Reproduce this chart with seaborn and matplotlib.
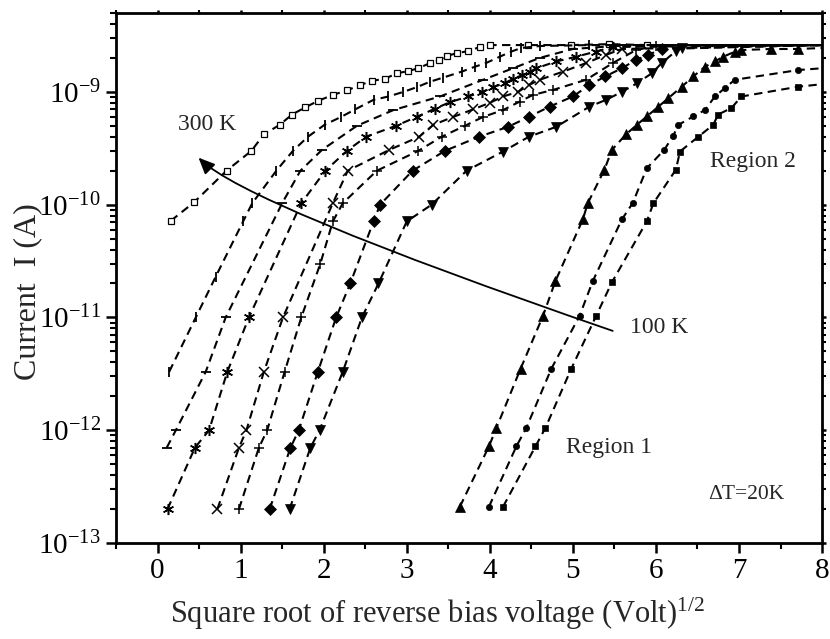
import numpy as np
import pandas as pd
import matplotlib
matplotlib.use("Agg")
import matplotlib.pyplot as plt
import seaborn as sns

sns.set_theme(style="white")
plt.rcParams['font.family'] = ['Liberation Serif', 'DejaVu Serif']
plt.rcParams['mathtext.fontset'] = 'custom'
plt.rcParams['mathtext.rm'] = 'Liberation Serif'
plt.rcParams['mathtext.it'] = 'Liberation Serif:italic'
plt.rcParams['mathtext.bf'] = 'Liberation Serif:bold'

# ---------------- data ----------------
temps = ["300 K", "280 K", "260 K", "240 K", "220 K", "200 K",
         "180 K", "160 K", "140 K", "120 K", "100 K"]

x_300 = [0.16, 0.44, 0.83, 1.13, 1.28, 1.47, 1.62, 1.78, 1.93, 2.11, 2.28, 2.44, 2.58,
         2.74, 2.88, 3.02, 3.14, 3.28, 3.39, 3.48, 3.60, 3.74, 3.88, 4.00, 4.46, 4.98,
         5.44, 5.89, 8.0]
i_300 = [7.2e-11, 1.05e-10, 2.0e-10, 3.0e-10, 4.2e-10, 5.1e-10, 6.3e-10, 7.3e-10, 8.3e-10,
         9.4e-10, 1.03e-9, 1.15e-9, 1.25e-9, 1.31e-9, 1.46e-9, 1.53e-9, 1.62e-9, 1.80e-9,
         1.92e-9, 2.08e-9, 2.2e-9, 2.3e-9, 2.5e-9, 2.6e-9, 2.6e-9, 2.6e-9, 2.65e-9, 2.6e-9,
         2.6e-9]

x_280 = [0.14, 0.46, 0.70, 1.03, 1.14, 1.43, 1.63, 1.81, 2.01, 2.21, 2.38, 2.60, 2.78,
         2.96, 3.12, 3.28, 3.44, 3.66, 3.82, 3.96, 4.12, 4.26, 4.38, 4.6, 5.2, 8.0]
i_280 = [3.3e-12, 1.0e-11, 2.3e-11, 7.1e-11, 1.03e-10, 2.0e-10, 3.0e-10, 4.0e-10, 5.1e-10,
         6.0e-10, 7.0e-10, 8.5e-10, 9.1e-10, 1.0e-9, 1.1e-9, 1.23e-9, 1.34e-9, 1.51e-9,
         1.67e-9, 1.81e-9, 2.05e-9, 2.28e-9, 2.45e-9, 2.55e-9, 2.6e-9, 2.6e-9]

x_260 = [0.11, 0.22, 0.58, 0.82, 1.50, 1.72, 1.98, 2.40, 2.84, 3.40, 3.92, 4.28, 4.6,
         5.0, 5.5, 8.0]
i_260 = [7e-13, 1e-12, 3.3e-12, 1e-11, 1.03e-10, 2.0e-10, 3.06e-10, 5.0e-10, 6.9e-10,
         9.1e-10, 1.28e-9, 1.62e-9, 2.0e-9, 2.4e-9, 2.55e-9, 2.6e-9]

x_240 = [0.12, 0.45, 0.62, 0.84, 1.10, 1.73, 2.02, 2.28, 2.51, 2.87, 3.12, 3.34, 3.52,
         3.74, 3.91, 4.04, 4.18, 4.28, 4.39, 4.48, 4.56, 4.80, 5.04, 5.28, 5.48, 8.0]
i_240 = [2e-13, 7e-13, 1e-12, 3.3e-12, 1e-11, 1.03e-10, 2.0e-10, 3.0e-10, 4.0e-10, 5.0e-10,
         6.0e-10, 7.1e-10, 8.1e-10, 9.1e-10, 1.0e-9, 1.1e-9, 1.2e-9, 1.3e-9, 1.41e-9,
         1.5e-9, 1.62e-9, 1.86e-9, 2.05e-9, 2.28e-9, 2.5e-9, 2.6e-9]

x_220 = [0.72, 0.98, 1.07, 1.28, 1.51, 2.11, 2.29, 2.79, 3.15, 3.32, 3.56, 3.80, 4.0,
         4.16, 4.34, 4.47, 4.60, 4.88, 5.16, 5.40, 5.59, 8.0]
i_220 = [2e-13, 7e-13, 1e-12, 3.3e-12, 1e-11, 1.03e-10, 2.0e-10, 3.06e-10, 4.0e-10,
         5.1e-10, 6.0e-10, 7.0e-10, 8.0e-10, 9.1e-10, 1.0e-9, 1.15e-9, 1.28e-9, 1.51e-9,
         1.8e-9, 2.13e-9, 2.4e-9, 2.6e-9]

x_200 = [0.98, 1.22, 1.32, 1.53, 1.73, 1.96, 2.11, 2.23, 2.64, 3.14, 3.42, 3.70, 3.92,
         4.16, 4.36, 4.52, 4.76, 5.16, 5.48, 5.76, 6.0, 8.0]
i_200 = [2e-13, 7e-13, 1e-12, 3.3e-12, 1e-11, 3e-11, 7.1e-11, 1.03e-10, 2.0e-10, 3.0e-10,
         4.0e-10, 5.0e-10, 6.0e-10, 6.9e-10, 8.2e-10, 9.4e-10, 1.04e-9, 1.28e-9, 1.8e-9,
         2.35e-9, 2.55e-9, 2.6e-9]

x_180 = [1.35, 1.60, 1.70, 1.93, 2.15, 2.32, 2.60, 2.68, 3.07, 3.46, 3.87, 4.22, 4.47,
         4.72, 5.0, 5.2, 5.39, 5.59, 5.76, 5.91, 6.07, 8.0]
i_180 = [2e-13, 7e-13, 1e-12, 3.3e-12, 1e-11, 2e-11, 7.1e-11, 1.0e-10, 2.0e-10, 3.0e-10,
         4.0e-10, 4.9e-10, 6.0e-10, 7.4e-10, 9.1e-10, 1.15e-9, 1.37e-9, 1.62e-9, 1.92e-9,
         2.13e-9, 2.4e-9, 2.6e-9]

x_160 = [1.59, 1.84, 1.95, 2.23, 2.46, 2.66, 3.0, 3.30, 3.72, 4.16, 4.47, 4.80, 5.20,
         5.40, 5.59, 5.77, 5.95, 6.07, 6.24, 6.31, 8.0]
i_160 = [2e-13, 7e-13, 1e-12, 3.3e-12, 1e-11, 2e-11, 7.1e-11, 1.0e-10, 2.0e-10, 2.96e-10,
         4.0e-10, 4.9e-10, 7.4e-10, 8.5e-10, 1.0e-9, 1.19e-9, 1.46e-9, 1.8e-9, 2.3e-9,
         2.45e-9, 2.6e-9]

x_140 = [3.64, 3.99, 4.08, 4.37, 4.64, 4.79, 5.12, 5.18, 5.38, 5.47, 5.64, 5.77, 5.89,
         6.03, 6.15, 6.31, 6.45, 6.59, 6.71, 6.81, 6.95, 7.03, 7.39, 7.71, 8.0]
i_140 = [2.1e-13, 7.2e-13, 1.05e-12, 3.5e-12, 1.03e-11, 2.1e-11, 7.4e-11, 1.03e-10,
         2.04e-10, 3.06e-10, 4.2e-10, 5.1e-10, 6.05e-10, 7.4e-10, 8.8e-10, 1.11e-9,
         1.37e-9, 1.67e-9, 1.86e-9, 2.05e-9, 2.27e-9, 2.35e-9, 2.4e-9, 2.4e-9, 2.45e-9]

x_120 = [3.99, 4.32, 4.44, 4.74, 5.08, 5.24, 5.59, 5.72, 5.89, 6.10, 6.21, 6.27, 6.45,
         6.59, 6.71, 6.83, 6.95, 7.71, 8.0]
i_120 = [2.1e-13, 7.2e-13, 1.05e-12, 3.5e-12, 1.03e-11, 2.1e-11, 7.4e-11, 1.03e-10,
         2.1e-10, 3.06e-10, 4.1e-10, 5.1e-10, 6.05e-10, 6.9e-10, 9.1e-10, 1.08e-9, 1.28e-9,
         1.56e-9, 1.62e-9]

x_100 = [4.16, 4.55, 4.67, 4.98, 5.28, 5.47, 5.89, 5.97, 6.24, 6.29, 6.51, 6.69, 6.75,
         6.91, 7.03, 7.71, 8.0]
i_100 = [2.1e-13, 7.2e-13, 1.05e-12, 3.5e-12, 1.03e-11, 2.05e-11, 7.1e-11, 1.03e-10,
         2.04e-10, 2.96e-10, 4.0e-10, 5.1e-10, 6.3e-10, 7.2e-10, 9.1e-10, 1.11e-9, 1.17e-9]

x_ticks = [0, 1, 2, 3, 4, 5, 6, 7, 8]
y_ticks = [1e-13, 1e-12, 1e-11, 1e-10, 1e-9]
y_tick_labels = [r"$10^{-13}$", r"$10^{-12}$", r"$10^{-11}$", r"$10^{-10}$", r"$10^{-9}$"]

series_x = [x_300, x_280, x_260, x_240, x_220, x_200, x_180, x_160, x_140, x_120, x_100]
series_i = [i_300, i_280, i_260, i_240, i_220, i_200, i_180, i_160, i_140, i_120, i_100]

# ---------------- styles ----------------
styles = {
    "300 K": dict(marker="s", ms=4.5, mfc="white", mew=0.9),
    "280 K": dict(marker="|", ms=7, mew=1.3),
    "260 K": dict(marker="_", ms=7, mew=1.3),
    "240 K": dict(marker=(6, 2, 0), ms=8, mew=1.1),
    "220 K": dict(marker="x", ms=6.5, mew=1.1),
    "200 K": dict(marker="+", ms=7, mew=1.1),
    "180 K": dict(marker="D", ms=6, mfc="black", mew=0.5),
    "160 K": dict(marker="v", ms=7.5, mfc="black", mew=0.5),
    "140 K": dict(marker="^", ms=7, mfc="black", mew=0.5),
    "120 K": dict(marker="o", ms=4.5, mfc="black", mew=0.5),
    "100 K": dict(marker="s", ms=4.5, mfc="black", mew=0.5),
}

fig = plt.figure(figsize=(8.30, 6.39), dpi=100)
ax = fig.add_axes([0.1398, 0.1502, 0.8506, 0.8294])
ax.set_facecolor("white")

for t, xs, ys in zip(temps, series_x, series_i):
    df = pd.DataFrame({"x": xs, "I": ys})
    n = len(xs)
    sns.lineplot(data=df, x="x", y="I", ax=ax, sort=False, estimator=None,
                 color="black", linestyle=(0, (4.0, 2.6)), lw=1.5,
                 mec="black", markevery=list(range(n - 1)), legend=False,
                 **styles[t])

ax.set_yscale("log")
ax.set_xlim(-0.5, 8)
ax.set_ylim(1e-13, 5.0e-9)

ax.set_xticks(x_ticks)
ax.set_xticklabels([str(v) for v in x_ticks])
ax.set_xticks(np.arange(-0.5, 8.01, 0.5), minor=True)
ax.set_yticks(y_ticks)
ax.set_yticklabels(y_tick_labels)
ax.yaxis.set_minor_locator(matplotlib.ticker.LogLocator(base=10, subs=np.arange(2, 10)))
ax.yaxis.set_minor_formatter(matplotlib.ticker.NullFormatter())

for s in ax.spines.values():
    s.set_linewidth(2.0)
    s.set_color("black")

ax.tick_params(axis="both", which="major", direction="out", length=7, width=1.8,
               labelsize=21, colors="black", pad=4)
ax.tick_params(axis="both", which="minor", direction="out", length=4, width=1.5,
               colors="black")
ax.tick_params(axis="x", which="both", top=True, bottom=True)
ax.tick_params(axis="y", which="both", right=True, left=True)
for tk in ax.xaxis.get_major_ticks() + ax.xaxis.get_minor_ticks():
    tk.tick2line.set_markersize(2.5)
for tk in ax.yaxis.get_major_ticks() + ax.yaxis.get_minor_ticks():
    tk.tick2line.set_markersize(3)

ax.set_xlabel(r"Square root of reverse bias voltage (Volt)$^{1/2}$", fontsize=22)
ax.xaxis.set_label_coords(0.455, -0.100)
ax.set_ylabel("Current  I (A)", fontsize=23)
ax.yaxis.set_label_coords(-0.104, 0.474)

# annotations
ax.text(0.59, 5.1e-10, "300 K", fontsize=17, ha="center", va="center")
ax.text(6.04, 8.2e-12, "100 K", fontsize=17, ha="center", va="center")
ax.text(7.17, 2.4e-10, "Region 2", fontsize=17, ha="center", va="center")
ax.text(5.43, 7.1e-13, "Region 1", fontsize=17, ha="center", va="center")
ax.text(7.09, 2.67e-13, "ΔT=20K", fontsize=15.5, ha="center", va="center")

ax.annotate("", xy=(0.493, 2.61e-10), xytext=(5.48, 7.6e-12),
            arrowprops=dict(arrowstyle="-|>,head_length=0.9,head_width=0.4",
                            connectionstyle="angle3,angleA=-19,angleB=135",
                            color="black", lw=1.3, shrinkA=0, shrinkB=0,
                            mutation_scale=11))

fig.savefig("out.png", dpi=100, facecolor="white")
